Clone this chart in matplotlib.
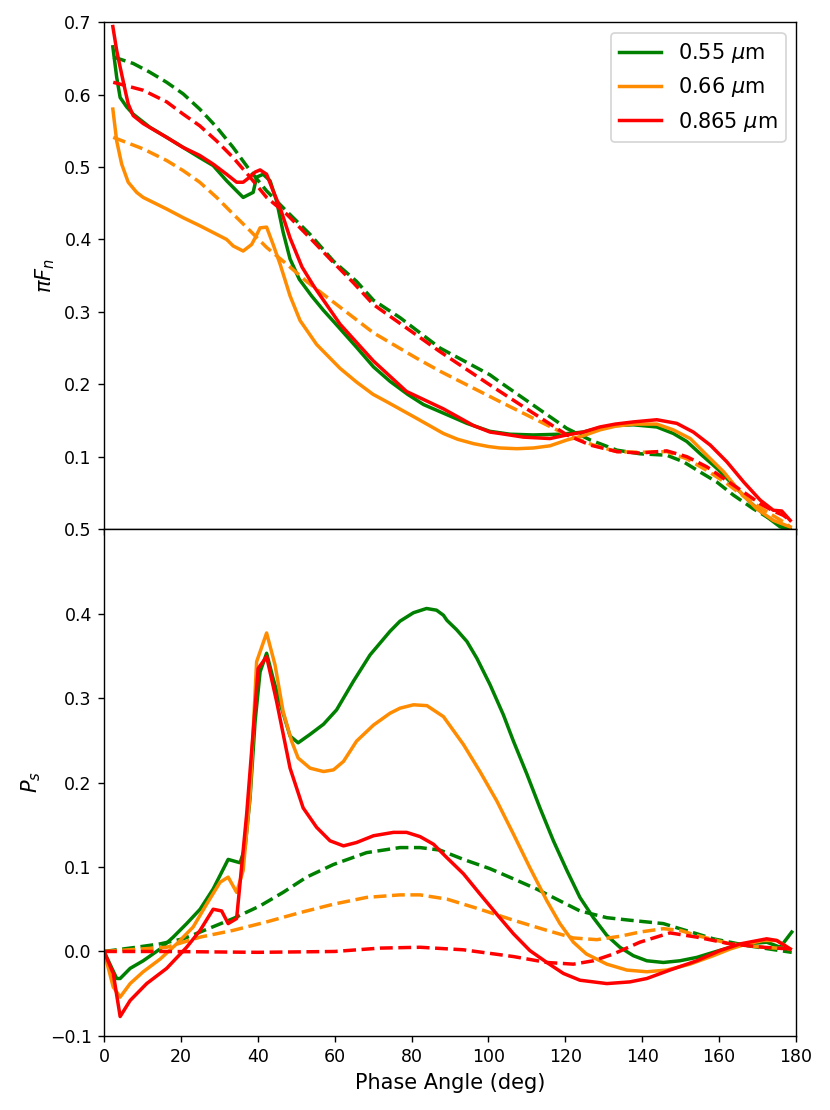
import numpy as np
import matplotlib
matplotlib.use("Agg")
import matplotlib.pyplot as plt

# wavelengths and colours
labels = ["0.55 $\\mu$m", "0.66 $\\mu$m", "0.865 $\\mu$m"]
colors = ["green", "darkorange", "red"]

# ---- top panel: pi*F_n, solid curves
flux_x_055 = [2.3, 3.3, 4.2, 5.9, 7.6, 11.9, 16.3, 20.6, 24.9, 28.4, 31.9, 34.5, 36.2, 38.8, 39.7, 41.4, 43.2, 44.9, 46.6, 48.4, 50.8, 54, 57.1, 60, 65.7, 70.1, 74.4, 79, 83.1, 89.2, 94.4, 100.4, 105.6, 111.7, 118.6, 124.7, 129, 133, 137.7, 143.8, 148.1, 151.6, 155.1, 159.4, 163.7, 168.1, 172.4, 175.9, 178.5]
flux_055 = [0.666, 0.624, 0.596, 0.583, 0.573, 0.555, 0.541, 0.527, 0.513, 0.502, 0.481, 0.467, 0.458, 0.465, 0.486, 0.490, 0.481, 0.453, 0.410, 0.373, 0.345, 0.322, 0.302, 0.285, 0.251, 0.224, 0.204, 0.186, 0.172, 0.158, 0.146, 0.135, 0.131, 0.130, 0.131, 0.134, 0.140, 0.143, 0.144, 0.141, 0.132, 0.121, 0.104, 0.084, 0.061, 0.037, 0.017, 0.003, 0.0]

flux_x_066 = [2.3, 3.3, 4.6, 6.3, 8.5, 10.2, 16.3, 20.6, 24.9, 31.9, 33.6, 36.2, 38.4, 39.3, 40.6, 42.3, 44, 45.8, 48.4, 51, 52.7, 55.3, 61.4, 65.7, 70, 73.5, 81.3, 88.3, 92, 96.1, 100, 103, 107.4, 111.7, 116, 120.4, 124.7, 129, 133, 137.7, 143.8, 148.1, 152.5, 156.8, 161.2, 165.5, 169.8, 174.1, 178.5]
flux_066 = [0.580, 0.536, 0.504, 0.479, 0.465, 0.458, 0.442, 0.430, 0.419, 0.400, 0.391, 0.384, 0.393, 0.402, 0.416, 0.417, 0.393, 0.366, 0.322, 0.288, 0.275, 0.255, 0.222, 0.203, 0.186, 0.176, 0.153, 0.132, 0.124, 0.118, 0.114, 0.112, 0.111, 0.112, 0.115, 0.123, 0.129, 0.137, 0.142, 0.145, 0.145, 0.137, 0.125, 0.102, 0.079, 0.051, 0.028, 0.012, 0.003]

flux_x_0865 = [2.3, 3.3, 4.2, 5.5, 6.3, 7.6, 10.2, 16.3, 20.6, 24.9, 28.4, 31.9, 34.5, 36.2, 37.9, 39.3, 40.6, 42.3, 44, 45.8, 48.4, 51.5, 54.5, 61.4, 70.1, 78.7, 88.3, 96.1, 100.4, 103, 109.1, 116, 120.4, 124.7, 129, 133, 137.7, 143.8, 149, 153.3, 157.7, 162, 166.4, 170.7, 174.1, 176.3, 178.5]
flux_0865 = [0.694, 0.661, 0.638, 0.606, 0.587, 0.571, 0.560, 0.541, 0.527, 0.516, 0.504, 0.490, 0.479, 0.479, 0.486, 0.493, 0.496, 0.490, 0.467, 0.444, 0.402, 0.362, 0.336, 0.283, 0.232, 0.190, 0.166, 0.143, 0.134, 0.132, 0.127, 0.125, 0.130, 0.134, 0.141, 0.145, 0.148, 0.151, 0.146, 0.134, 0.116, 0.093, 0.065, 0.040, 0.026, 0.025, 0.012]

# ---- top panel: dashed curves
fluxd_x_055 = [2.4, 7.6, 11.9, 16.3, 20.6, 24.9, 29.3, 33.6, 38, 42.3, 47.5, 53.6, 59.7, 65.7, 70.1, 77, 87.4, 100.4, 103, 111.7, 120.4, 126.5, 133.4, 139.4, 146.4, 150.7, 155, 159.4, 163.7, 168.9, 172.4, 176.7]
fluxd_055 = [0.652, 0.643, 0.631, 0.617, 0.601, 0.580, 0.555, 0.527, 0.495, 0.467, 0.439, 0.407, 0.370, 0.342, 0.316, 0.292, 0.250, 0.213, 0.203, 0.171, 0.139, 0.123, 0.109, 0.104, 0.102, 0.093, 0.079, 0.065, 0.047, 0.028, 0.017, 0.005]

fluxd_x_066 = [2.4, 10.2, 16.3, 20.6, 24.9, 29.3, 33.6, 38, 42.3, 47.5, 52.7, 57.1, 70.1, 81.3, 87.4, 100.4, 103, 111.7, 120.4, 127.3, 133.4, 139.4, 146.4, 151.6, 156.8, 162, 167.2, 172.4, 176.7, 178.5]
fluxd_066 = [0.541, 0.525, 0.509, 0.495, 0.479, 0.458, 0.435, 0.412, 0.389, 0.366, 0.342, 0.324, 0.271, 0.236, 0.218, 0.183, 0.176, 0.153, 0.130, 0.116, 0.107, 0.106, 0.107, 0.097, 0.081, 0.063, 0.042, 0.024, 0.010, 0.003]

fluxd_x_0865 = [2.4, 10.2, 16.3, 20.6, 24.9, 29.3, 33.6, 38, 42.3, 47.5, 53.6, 59.7, 64.9, 70.1, 87.4, 100.4, 103, 111.7, 120.4, 126.5, 133.4, 139.4, 146.4, 151.6, 156.8, 162, 166.4, 170.7, 174.1, 176.7, 178]
fluxd_0865 = [0.617, 0.606, 0.590, 0.573, 0.557, 0.536, 0.513, 0.486, 0.458, 0.435, 0.402, 0.368, 0.340, 0.310, 0.245, 0.199, 0.190, 0.160, 0.130, 0.116, 0.107, 0.105, 0.108, 0.100, 0.086, 0.067, 0.051, 0.035, 0.025, 0.019, 0.014]

# ---- bottom panel: P_s, solid curves
pol_x_055 = [0, 3.3, 4.2, 6.8, 10.2, 14.6, 18, 21.5, 25, 28.4, 32.3, 35.4, 36.7, 38, 39.3, 40.6, 42.3, 44, 46.2, 48.4, 50.5, 53.6, 57.1, 60.5, 64.9, 69.2, 71.8, 74.4, 77, 80.5, 83.9, 86.5, 88.3, 89.2, 91.7, 94.4, 97, 100.4, 103.9, 106.5, 110, 113.4, 116.9, 120.4, 123.8, 127.3, 130.8, 134.2, 137.7, 141.2, 145.5, 149.8, 154.2, 158.5, 162.9, 167.2, 172.4, 175.9, 178.9]
pol_055 = [0.0, -0.032, -0.032, -0.020, -0.011, 0.003, 0.017, 0.033, 0.050, 0.074, 0.109, 0.105, 0.123, 0.182, 0.272, 0.331, 0.353, 0.323, 0.288, 0.255, 0.247, 0.257, 0.269, 0.286, 0.320, 0.351, 0.365, 0.379, 0.391, 0.401, 0.406, 0.404, 0.398, 0.392, 0.381, 0.367, 0.347, 0.316, 0.280, 0.249, 0.210, 0.170, 0.131, 0.096, 0.064, 0.040, 0.019, 0.005, -0.005, -0.011, -0.013, -0.011, -0.007, -0.001, 0.005, 0.009, 0.011, 0.005, 0.023]

pol_x_066 = [0, 2.4, 4.2, 6.8, 10.2, 14.6, 18.9, 23.2, 26.7, 30.2, 32.3, 34.5, 36.2, 38, 39.7, 42.3, 44.5, 46.6, 48.8, 50.5, 53.6, 57.1, 59.7, 62.3, 65.7, 70.1, 74.4, 77, 80.5, 84, 88.3, 93.5, 97.8, 102.2, 106.5, 110.8, 115.2, 118.6, 122.1, 125.5, 130.8, 136, 141.2, 146.4, 152.4, 158.5, 162.9, 167.2, 171.5, 175, 178.5]
pol_066 = [0.0, -0.042, -0.054, -0.038, -0.024, -0.009, 0.009, 0.029, 0.056, 0.082, 0.088, 0.070, 0.096, 0.186, 0.343, 0.377, 0.339, 0.284, 0.249, 0.229, 0.217, 0.213, 0.215, 0.225, 0.249, 0.268, 0.282, 0.288, 0.292, 0.291, 0.278, 0.245, 0.213, 0.178, 0.139, 0.099, 0.060, 0.033, 0.011, -0.003, -0.015, -0.022, -0.024, -0.022, -0.015, -0.005, 0.003, 0.009, 0.013, 0.013, 0.003]

pol_x_0865 = [0, 2.4, 4.2, 6.8, 11.1, 16.3, 21.5, 25, 28.4, 30.6, 32.3, 34.5, 37.1, 40.1, 42.3, 44.9, 48.4, 51.8, 55.3, 58.8, 62.3, 65.7, 70.1, 75.3, 78.7, 82.2, 85.7, 89.2, 93.5, 97.8, 102.2, 106.5, 110.8, 115.2, 119.5, 123.8, 130.8, 136.8, 141.2, 147.2, 154.2, 160.2, 165.5, 172.4, 175, 178.5]
pol_0865 = [0.0, -0.026, -0.077, -0.058, -0.038, -0.020, 0.005, 0.025, 0.050, 0.048, 0.033, 0.039, 0.162, 0.335, 0.349, 0.296, 0.217, 0.170, 0.147, 0.131, 0.125, 0.129, 0.137, 0.141, 0.141, 0.136, 0.127, 0.111, 0.092, 0.068, 0.044, 0.021, 0.001, -0.013, -0.026, -0.034, -0.038, -0.036, -0.032, -0.022, -0.011, 0.001, 0.009, 0.015, 0.013, 0.003]

# ---- bottom panel: dashed curves
pold_x_055 = [0, 8.4, 14.6, 20.6, 25, 33.6, 40.6, 46.6, 52.7, 59.7, 68.3, 77, 82.2, 87.4, 93.5, 100.4, 106.5, 112.5, 117.7, 123.8, 130.8, 136.8, 145.5, 149.8, 154.2, 158.5, 167.2, 175.9, 178.9]
pold_055 = [0.0, 0.005, 0.009, 0.015, 0.023, 0.039, 0.054, 0.070, 0.088, 0.103, 0.117, 0.123, 0.123, 0.120, 0.109, 0.098, 0.086, 0.074, 0.062, 0.048, 0.040, 0.037, 0.033, 0.027, 0.021, 0.015, 0.007, 0.001, -0.001]

pold_x_066 = [0, 16.3, 25, 33.6, 42.3, 51, 59.7, 68.3, 77, 82.2, 89.2, 97.8, 106.5, 115.2, 122.1, 128.2, 134.2, 139.4, 145.5, 149.8, 154.2, 162.9, 171.5, 178.5]
pold_066 = [0.0, 0.005, 0.017, 0.025, 0.035, 0.046, 0.056, 0.064, 0.067, 0.067, 0.062, 0.050, 0.037, 0.025, 0.016, 0.014, 0.018, 0.023, 0.027, 0.025, 0.019, 0.009, 0.005, 0.003]

pold_x_0865 = [0, 16.3, 40, 60, 71.8, 82.2, 93.5, 106.5, 115.2, 122.1, 127.3, 132.5, 139.4, 147.2, 154.2, 162.9, 171.5, 178.5]
pold_0865 = [0.0, 0.0, -0.001, 0.0, 0.004, 0.005, 0.002, -0.006, -0.013, -0.015, -0.011, -0.003, 0.011, 0.022, 0.017, 0.009, 0.005, 0.003]

flux_solid = [(flux_x_055, flux_055), (flux_x_066, flux_066), (flux_x_0865, flux_0865)]
flux_dash = [(fluxd_x_055, fluxd_055), (fluxd_x_066, fluxd_066), (fluxd_x_0865, fluxd_0865)]
pol_solid = [(pol_x_055, pol_055), (pol_x_066, pol_066), (pol_x_0865, pol_0865)]
pol_dash = [(pold_x_055, pold_055), (pold_x_066, pold_066), (pold_x_0865, pold_0865)]

fig, (ax1, ax2) = plt.subplots(2, 1, sharex=True, figsize=(6.64, 8.88), dpi=125)
fig.subplots_adjust(left=0.1253, right=0.959, top=0.980, bottom=0.0667, hspace=0)

for i in range(3):
    ax1.plot(flux_solid[i][0], flux_solid[i][1], color=colors[i], lw=2, label=labels[i])
    ax1.plot(flux_dash[i][0], flux_dash[i][1], color=colors[i], lw=2, ls='--')
    ax2.plot(pol_solid[i][0], pol_solid[i][1], color=colors[i], lw=2)
    ax2.plot(pol_dash[i][0], pol_dash[i][1], color=colors[i], lw=2, ls='--')

ax1.set_ylim(0, 0.7)
ax1.set_yticks([0.1, 0.2, 0.3, 0.4, 0.5, 0.6, 0.7])
ax1.set_ylabel(r'$\pi F_n$', fontsize=12)
ax1.legend(loc='upper right', fontsize=12)

ax2.set_ylim(-0.1, 0.5)
ax2.set_xlim(0, 180)
ax2.set_xticks(np.arange(0, 181, 20))
ax2.set_ylabel(r'$P_s$', fontsize=12)
ax2.set_xlabel('Phase Angle (deg)', fontsize=12)

plt.savefig('out.png', dpi=125)
